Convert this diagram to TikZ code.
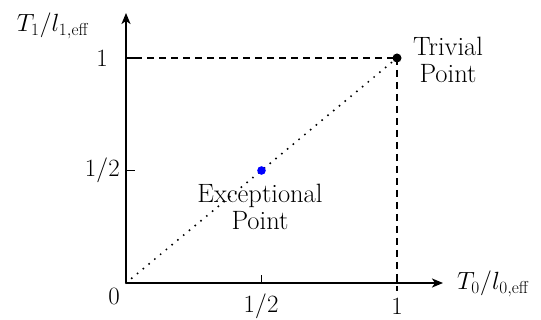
\documentclass[tikz,border=0pt]{standalone}
\usetikzlibrary{arrows.meta}
\begin{document}
\begin{tikzpicture}[x=1pt,y=-1pt,
  axis/.style={line width=1.9pt,-{Stealth[length=11pt,width=9pt,inset=3pt]}},
  tick/.style={line width=1.9pt},
  guide/.style={line width=1.9pt,dash pattern=on 7pt off 5pt},
  diag/.style={line width=2.2pt,line cap=round,dash pattern=on 0pt off 7.5pt},
  lbl/.style={inner sep=0pt,font=\fontsize{26.5}{28}\selectfont},
  txt/.style={inner sep=0pt,align=center,font=\fontsize{26.5}{27}\selectfont}]
\useasboundingbox (0,0) rectangle (541,320);
\coordinate (O) at (126,283);
\coordinate (X1) at (397,283);
\coordinate (Xh) at (261.5,283);
\coordinate (Y1) at (126,58);
\coordinate (Yh) at (126,170.5);
\coordinate (XE) at (443,283);
\coordinate (YE) at (126,13);
\coordinate (P) at (397,58);
\coordinate (H) at (261.5,170.5);
% axes
\draw[axis] (O) -- (XE);
\draw[axis] (O) -- (YE);
% ticks
\draw[tick] (Xh) -- ++(0,-8);
\draw[tick] (X1) -- ++(0,-8);
\draw[tick] (Yh) -- ++(9,0);
\draw[tick] (Y1) -- ++(9,0);
% guides
\draw[guide] ([xshift=9pt]Y1) -- (P);
\draw[guide] (P) -- ([yshift=-8pt]X1);
\draw[diag] (O) -- (P);
% points
\fill[black] (P) circle (4.5pt);
\fill[blue] (H) circle (4.3pt);
% labels
\node[lbl] (l0) at (114,296) {$0$};
\node[lbl] (lxh) at (261,306) {$1/2$};
\node[lbl] (lx1) at (397,306) {$1$};
\node[lbl,anchor=east] (lyh) at (120,170.5) {$1/2$};
\node[lbl,anchor=east] (ly1) at (108,58) {$1$};
\node[lbl,anchor=west] (xlab) at (457,284) {$T_0/l_{0,\mathrm{eff}}$};
\node[lbl] (ylab) at (53,26) {$T_1/l_{1,\mathrm{eff}}$};
\node[txt] (triv) at (448,60) {Trivial\\Point};
\node[txt] (exc) at (260,207) {Exceptional\\Point};
\end{tikzpicture}
\end{document}
